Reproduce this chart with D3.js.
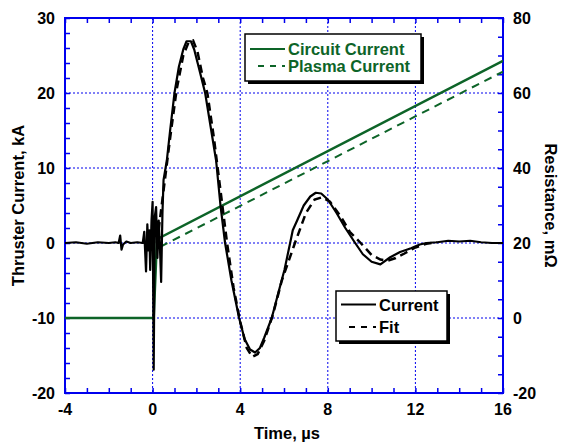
<!DOCTYPE html>
<html>
<head>
<meta charset="utf-8">
<script src="https://cdn.jsdelivr.net/npm/d3@7"></script>
<style>
  body { margin: 0; background: #fff; }
  text { font-family: "Liberation Sans", Arial, sans-serif; font-weight: bold; }
</style>
</head>
<body>
<div id="chart"></div>
<script>
// Measured current (time in µs, current in kA)
const currentT = [-4, -3.5, -3, -2.5, -2, -1.7, -1.55, -1.48, -1.42, -1.35, -1.2, -1.0, -0.7, -0.45, -0.38, -0.3, -0.24, -0.19, -0.15, -0.11, -0.05, 0.0, 0.05, 0.1, 0.16, 0.22, 0.28, 0.34, 0.39, 0.45, 0.5, 0.65, 0.8, 1.0, 1.2, 1.4, 1.55, 1.75, 1.9, 2.1, 2.4, 2.65, 2.9, 3.1, 3.31, 3.6, 3.95, 4.2, 4.45, 4.68, 4.9, 5.1, 5.44, 5.8, 6.02, 6.28, 6.4, 6.6, 6.9, 7.2, 7.45, 7.7, 8.0, 8.4, 8.8, 9.25, 9.6, 10.0, 10.4, 10.85, 11.3, 11.8, 12.2, 12.5, 13.0, 13.5, 14.0, 14.5, 15.0, 15.5, 16];
const currentI = [0, 0.1, -0.1, 0.1, 0, 0.1, 0, 1.0, -0.9, -0.2, 0.2, 0, 0.1, 0, 1.5, -3.8, 2.5, -1.0, 1.7, -3.6, 3.0, 5.5, -16.9, 3.5, 4.8, -2.0, 3.0, -1.0, -5.2, 4.0, 8.4, 11, 15, 20, 23.5, 25.8, 26.9, 26.9, 25.8, 23.5, 20, 15.5, 11, 5, 0, -5, -10, -12.8, -14.2, -14.6, -14.0, -12.6, -10, -6, -3.6, 0, 1.7, 3, 5, 6.2, 6.7, 6.6, 5.8, 4.0, 2, 0, -1.5, -2.5, -2.85, -1.9, -1.2, -0.7, -0.2, 0, 0.1, 0.3, 0.2, 0.3, 0.1, 0, 0];

// Fit
const fitT = [0.2, 0.5, 0.8, 1.1, 1.4, 1.65, 1.85, 2.05, 2.3, 2.5, 2.8, 3.1, 3.4, 3.7, 4.0, 4.3, 4.55, 4.8, 5.1, 5.5, 5.9, 6.5, 7.0, 7.4, 7.75, 8.1, 8.6, 9.0, 9.5, 10.0, 10.4, 10.75, 11.1, 11.5, 12.0, 12.5, 13.0];
const fitI = [0, 7, 14, 20.5, 25, 26.8, 27, 25.5, 22, 20, 14, 7, 0, -6, -10.5, -14, -15.2, -14.8, -13, -9.5, -5, 0, 4, 5.8, 6.1, 5.5, 3.5, 1.5, 0, -1.6, -2.2, -2.35, -2.0, -1.4, -0.6, -0.1, 0.1];

// Resistance (mΩ)
const circuitT = [-4, 0.05, 0.2, 16];
const circuitR = [0, 0, 21, 68.6];
const plasmaT = [0.35, 16];
const plasmaR = [19, 65.7];

const xTicks = [-4, 0, 4, 8, 12, 16];
const yLeftTicks = [-20, -10, 0, 10, 20, 30];
const yRightTicks = [-20, 0, 20, 40, 60, 80];

const width = 564, height = 445;
const margin = {left: 65, right: 61, top: 18, bottom: 52};
const blue = "#0000ee", green = "#0d6428";

const svg = d3.select("#chart").append("svg")
    .attr("width", width).attr("height", height);

const x = d3.scaleLinear().domain([-4, 16]).range([margin.left, width - margin.right]);
const yL = d3.scaleLinear().domain([-20, 30]).range([height - margin.bottom, margin.top]);
const yR = d3.scaleLinear().domain([-20, 80]).range([height - margin.bottom, margin.top]);

const x0 = margin.left, x1 = width - margin.right, y0 = height - margin.bottom, y1 = margin.top;

// Grid lines
svg.append("g").selectAll("line").data([0, 4, 8, 12]).join("line")
    .attr("x1", d => x(d)).attr("x2", d => x(d)).attr("y1", y1).attr("y2", y0)
    .attr("stroke", blue).attr("stroke-width", 1).attr("stroke-dasharray", "2,2");
svg.append("g").selectAll("line").data([-10, 0, 10, 20]).join("line")
    .attr("x1", x0).attr("x2", x1).attr("y1", d => yL(d)).attr("y2", d => yL(d))
    .attr("stroke", blue).attr("stroke-width", 1).attr("stroke-dasharray", "2,2");

// Axes (ticks inward)
const axisStyle = g => {
  g.select(".domain").remove();
  g.selectAll("line").attr("stroke", blue).attr("stroke-width", 1.5);
  g.selectAll("text").remove();
};
const minorX = d3.range(-4, 16.01, 1);
svg.append("g").attr("transform", `translate(0,${y0})`)
    .call(d3.axisTop(x).tickValues(minorX).tickSize(5)).call(axisStyle);
svg.append("g").attr("transform", `translate(0,${y1})`)
    .call(d3.axisBottom(x).tickValues(minorX).tickSize(5)).call(axisStyle);
svg.append("g").attr("transform", `translate(${x0},0)`)
    .call(d3.axisRight(yL).tickValues(d3.range(-20, 30.01, 2)).tickSize(5)).call(axisStyle);
svg.append("g").attr("transform", `translate(${x1},0)`)
    .call(d3.axisLeft(yR).tickValues(d3.range(-20, 80.01, 5)).tickSize(5)).call(axisStyle);

// Frame
svg.append("rect").attr("x", x0).attr("y", y1).attr("width", x1 - x0).attr("height", y0 - y1)
    .attr("fill", "none").attr("stroke", blue).attr("stroke-width", 2);

// Tick labels
svg.append("g").selectAll("text").data(xTicks).join("text")
    .attr("x", d => x(d)).attr("y", y0 + 22).attr("text-anchor", "middle")
    .attr("font-size", 16).text(d => d);
svg.append("g").selectAll("text").data(yLeftTicks).join("text")
    .attr("x", x0 - 10).attr("y", d => yL(d) + 6).attr("text-anchor", "end")
    .attr("font-size", 16).text(d => d);
svg.append("g").selectAll("text").data(yRightTicks).join("text")
    .attr("x", x1 + 10).attr("y", d => yR(d) + 6).attr("text-anchor", "start")
    .attr("font-size", 16).text(d => d);

// Axis titles
svg.append("text").attr("x", (x0 + x1) / 2 + 3).attr("y", height - 6)
    .attr("text-anchor", "middle").attr("font-size", 16.5).text("Time, µs");
svg.append("text").attr("transform", `translate(24,${(y0 + y1) / 2}) rotate(-90)`)
    .attr("text-anchor", "middle").attr("font-size", 16.5).text("Thruster Current, kA");
svg.append("text").attr("transform", `translate(545,${(y0 + y1) / 2}) rotate(90)`)
    .attr("text-anchor", "middle").attr("font-size", 16.5).text("Resistance, mΩ");

// Data lines
svg.append("clipPath").attr("id", "clip").append("rect")
    .attr("x", x0).attr("y", y1).attr("width", x1 - x0).attr("height", y0 - y1);
const plot = svg.append("g").attr("clip-path", "url(#clip)");

const lineL = d3.line().x(d => x(d[0])).y(d => yL(d[1]));
const lineR = d3.line().x(d => x(d[0])).y(d => yR(d[1]));

plot.append("path").datum(circuitT.map((t, i) => [t, circuitR[i]]))
    .attr("d", lineR).attr("fill", "none").attr("stroke", green).attr("stroke-width", 2.5);
plot.append("path").datum(plasmaT.map((t, i) => [t, plasmaR[i]]))
    .attr("d", lineR).attr("fill", "none").attr("stroke", green).attr("stroke-width", 2)
    .attr("stroke-dasharray", "8,6");
plot.append("path").datum(currentT.map((t, i) => [t, currentI[i]]))
    .attr("d", lineL).attr("fill", "none").attr("stroke", "#000").attr("stroke-width", 2.2)
    .attr("stroke-linejoin", "round");
plot.append("path").datum(fitT.map((t, i) => [t, fitI[i]]))
    .attr("d", lineL).attr("fill", "none").attr("stroke", "#000").attr("stroke-width", 2.5)
    .attr("stroke-dasharray", "8,5");

// Legends with drop shadow
function legend(bx, by, bw, bh, rowY, items, color) {
  const g = svg.append("g");
  g.append("rect").attr("x", bx + 3).attr("y", by + 3).attr("width", bw).attr("height", bh).attr("fill", "#000");
  g.append("rect").attr("x", bx).attr("y", by).attr("width", bw).attr("height", bh)
      .attr("fill", "#fff").attr("stroke", "#000").attr("stroke-width", 1.5);
  items.forEach((it, i) => {
    const cy = by + rowY[i];
    g.append("line").attr("x1", bx + (it.dash ? 13 : 5)).attr("x2", bx + 40).attr("y1", cy).attr("y2", cy)
        .attr("stroke", color).attr("stroke-width", 2).attr("stroke-dasharray", it.dash ? "6,6" : null);
    g.append("text").attr("x", bx + 43).attr("y", cy + 6).attr("font-size", 16.5)
        .attr("fill", color).text(it.label);
  });
}
legend(245, 34, 176, 47, [15, 32], [{label: "Circuit Current"}, {label: "Plasma Current", dash: true}], green);
legend(336, 291, 111, 50, [13.5, 36], [{label: "Current"}, {label: "Fit", dash: true}], "#000");
</script>
</body>
</html>
